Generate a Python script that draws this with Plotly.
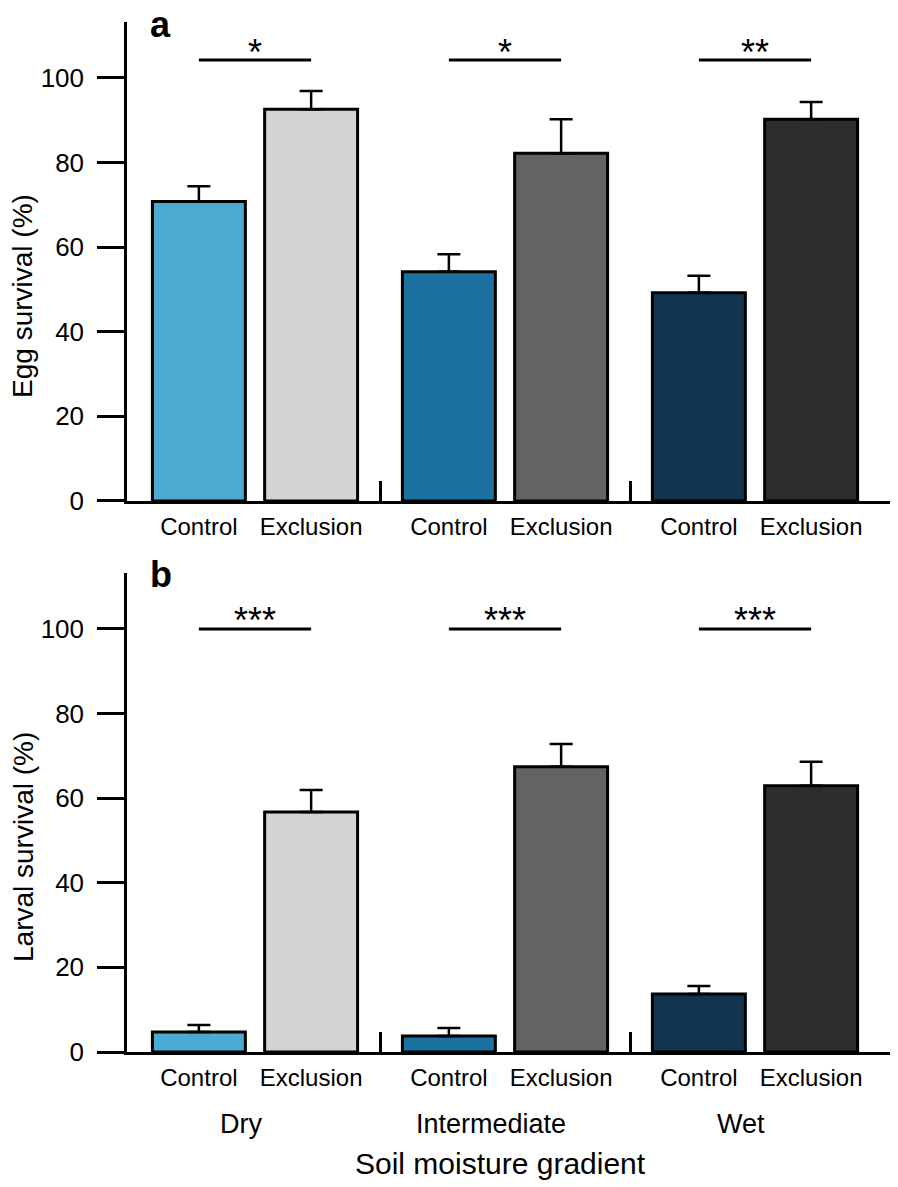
import plotly.graph_objects as go

# ---------------- data ----------------
groups = ["Dry", "Intermediate", "Wet"]
treatments = ["Control", "Exclusion"]

egg_control = [70.8, 54.2, 49.2]
egg_control_se = [3.6, 4.1, 4.0]
egg_exclusion = [92.6, 82.2, 90.2]
egg_exclusion_se = [4.3, 8.0, 4.1]

larval_control = [4.7, 3.8, 13.7]
larval_control_se = [1.7, 1.9, 1.9]
larval_exclusion = [56.7, 67.4, 62.9]
larval_exclusion_se = [5.2, 5.4, 5.7]

egg_sig = ["*", "*", "**"]
larval_sig = ["***", "***", "***"]
egg_sig_y = 104.2
larval_sig_y = 100.0

y_ticks = [0, 20, 40, 60, 80, 100]

control_colors = ["#4AAAD0", "#1B72A0", "#12344F"]
exclusion_colors = ["#D3D3D3", "#636363", "#2D2D2D"]

# ---------------- style ----------------
FONT = "Liberation Sans, Arial, sans-serif"
BARGAP = 0.102
BARGROUPGAP = 0.172
half = (1 - BARGAP) / 4  # offset of bar centres from group centre
gidx = list(range(len(groups)))

fig = go.Figure()

panels = [
    ("x", "y", egg_control, egg_control_se, egg_exclusion, egg_exclusion_se, egg_sig, egg_sig_y),
    ("x2", "y2", larval_control, larval_control_se, larval_exclusion, larval_exclusion_se, larval_sig, larval_sig_y),
]

for xa, ya, c, cse, e, ese, sig, sy in panels:
    for name, vals, se, cols in [("Control", c, cse, control_colors), ("Exclusion", e, ese, exclusion_colors)]:
        fig.add_trace(go.Bar(
            x=gidx, y=vals, name=name, xaxis=xa, yaxis=ya, showlegend=False,
            marker=dict(color=cols, line=dict(color="black", width=3)),
            error_y=dict(type="data", array=se, arrayminus=[0] * len(se), symmetric=False,
                         color="black", thickness=2.5, width=11.5),
        ))
    # significance lines
    lx, ly = [], []
    for g in gidx:
        lx += [g - half, g + half, None]
        ly += [sy, sy, None]
    fig.add_trace(go.Scatter(x=lx, y=ly, mode="lines", xaxis=xa, yaxis=ya, showlegend=False,
                             line=dict(color="black", width=3), hoverinfo="skip"))
    for g in gidx:
        fig.add_annotation(x=g, y=sy, xref=xa, yref=ya, text=sig[g], showarrow=False,
                           yanchor="middle", yshift=8,
                           font=dict(family=FONT, size=36, color="black"))

tickvals = []
ticktext = []
for g in gidx:
    tickvals += [g - half, g + half]
    ticktext += treatments

xcommon = dict(
    range=[-0.512, 2.572], showline=True, linecolor="black", linewidth=2.5,
    showgrid=False, zeroline=False, ticks="", tickmode="array",
    tickvals=tickvals, ticktext=ticktext, ticklabelstandoff=2,
    tickfont=dict(family=FONT, size=24, color="black"),
    minor=dict(tickmode="array", tickvals=[0.5, 1.5], ticks="inside", ticklen=20,
               tickwidth=2.5, tickcolor="black", showgrid=False),
)
ycommon = dict(
    range=[0, 113.2], showline=True, linecolor="black", linewidth=2.5,
    showgrid=False, zeroline=False, ticks="outside", ticklen=27, tickwidth=2.5,
    tickcolor="black", tickmode="array", tickvals=y_ticks, ticklabelstandoff=8,
    tickfont=dict(family=FONT, size=26, color="black"),
)

# page body has an 8px margin, so the figure is offset by 8px; compensate
fig.update_layout(
    width=890, height=1179,
    margin=dict(l=119, r=0, t=14, b=135),
    plot_bgcolor="white", paper_bgcolor="white",
    barmode="group", bargap=BARGAP, bargroupgap=BARGROUPGAP,
    xaxis=dict(anchor="y", **xcommon),
    yaxis=dict(anchor="x", domain=[0.535, 1.0], **ycommon),
    xaxis2=dict(anchor="y2", **xcommon),
    yaxis2=dict(anchor="x2", domain=[0.0, 0.465], **ycommon),
    font=dict(family=FONT, color="black"),
)

# panel letters
fig.add_annotation(text="<b>a</b>", xref="paper", yref="y domain", x=0.027, y=0.994,
                   xanchor="left", yanchor="middle", showarrow=False,
                   font=dict(family=FONT, size=36, color="black"))
fig.add_annotation(text="<b>b</b>", xref="paper", yref="y2 domain", x=0.027, y=0.996,
                   xanchor="left", yanchor="middle", showarrow=False,
                   font=dict(family=FONT, size=36, color="black"))

# y titles
fig.add_annotation(text="Egg survival (%)", xref="paper", yref="y domain", x=-0.1349, y=0.428,
                   xanchor="center", yanchor="middle", textangle=-90, showarrow=False,
                   font=dict(family=FONT, size=28, color="black"))
fig.add_annotation(text="Larval survival (%)", xref="paper", yref="y2 domain", x=-0.1349, y=0.428,
                   xanchor="center", yanchor="middle", textangle=-90, showarrow=False,
                   font=dict(family=FONT, size=28, color="black"))

# group labels
for g in gidx:
    fig.add_annotation(text=groups[g], xref="x2", yref="paper", x=g, y=-0.0699, xshift=-14,
                       xanchor="center", yanchor="middle", showarrow=False,
                       font=dict(family=FONT, size=27, color="black"))

# x title
fig.add_annotation(text="Soil moisture gradient", xref="paper", yref="paper", x=0.485, y=-0.1087,
                   xanchor="center", yanchor="middle", showarrow=False,
                   font=dict(family=FONT, size=30, color="black"))

fig.write_html("out.html")
